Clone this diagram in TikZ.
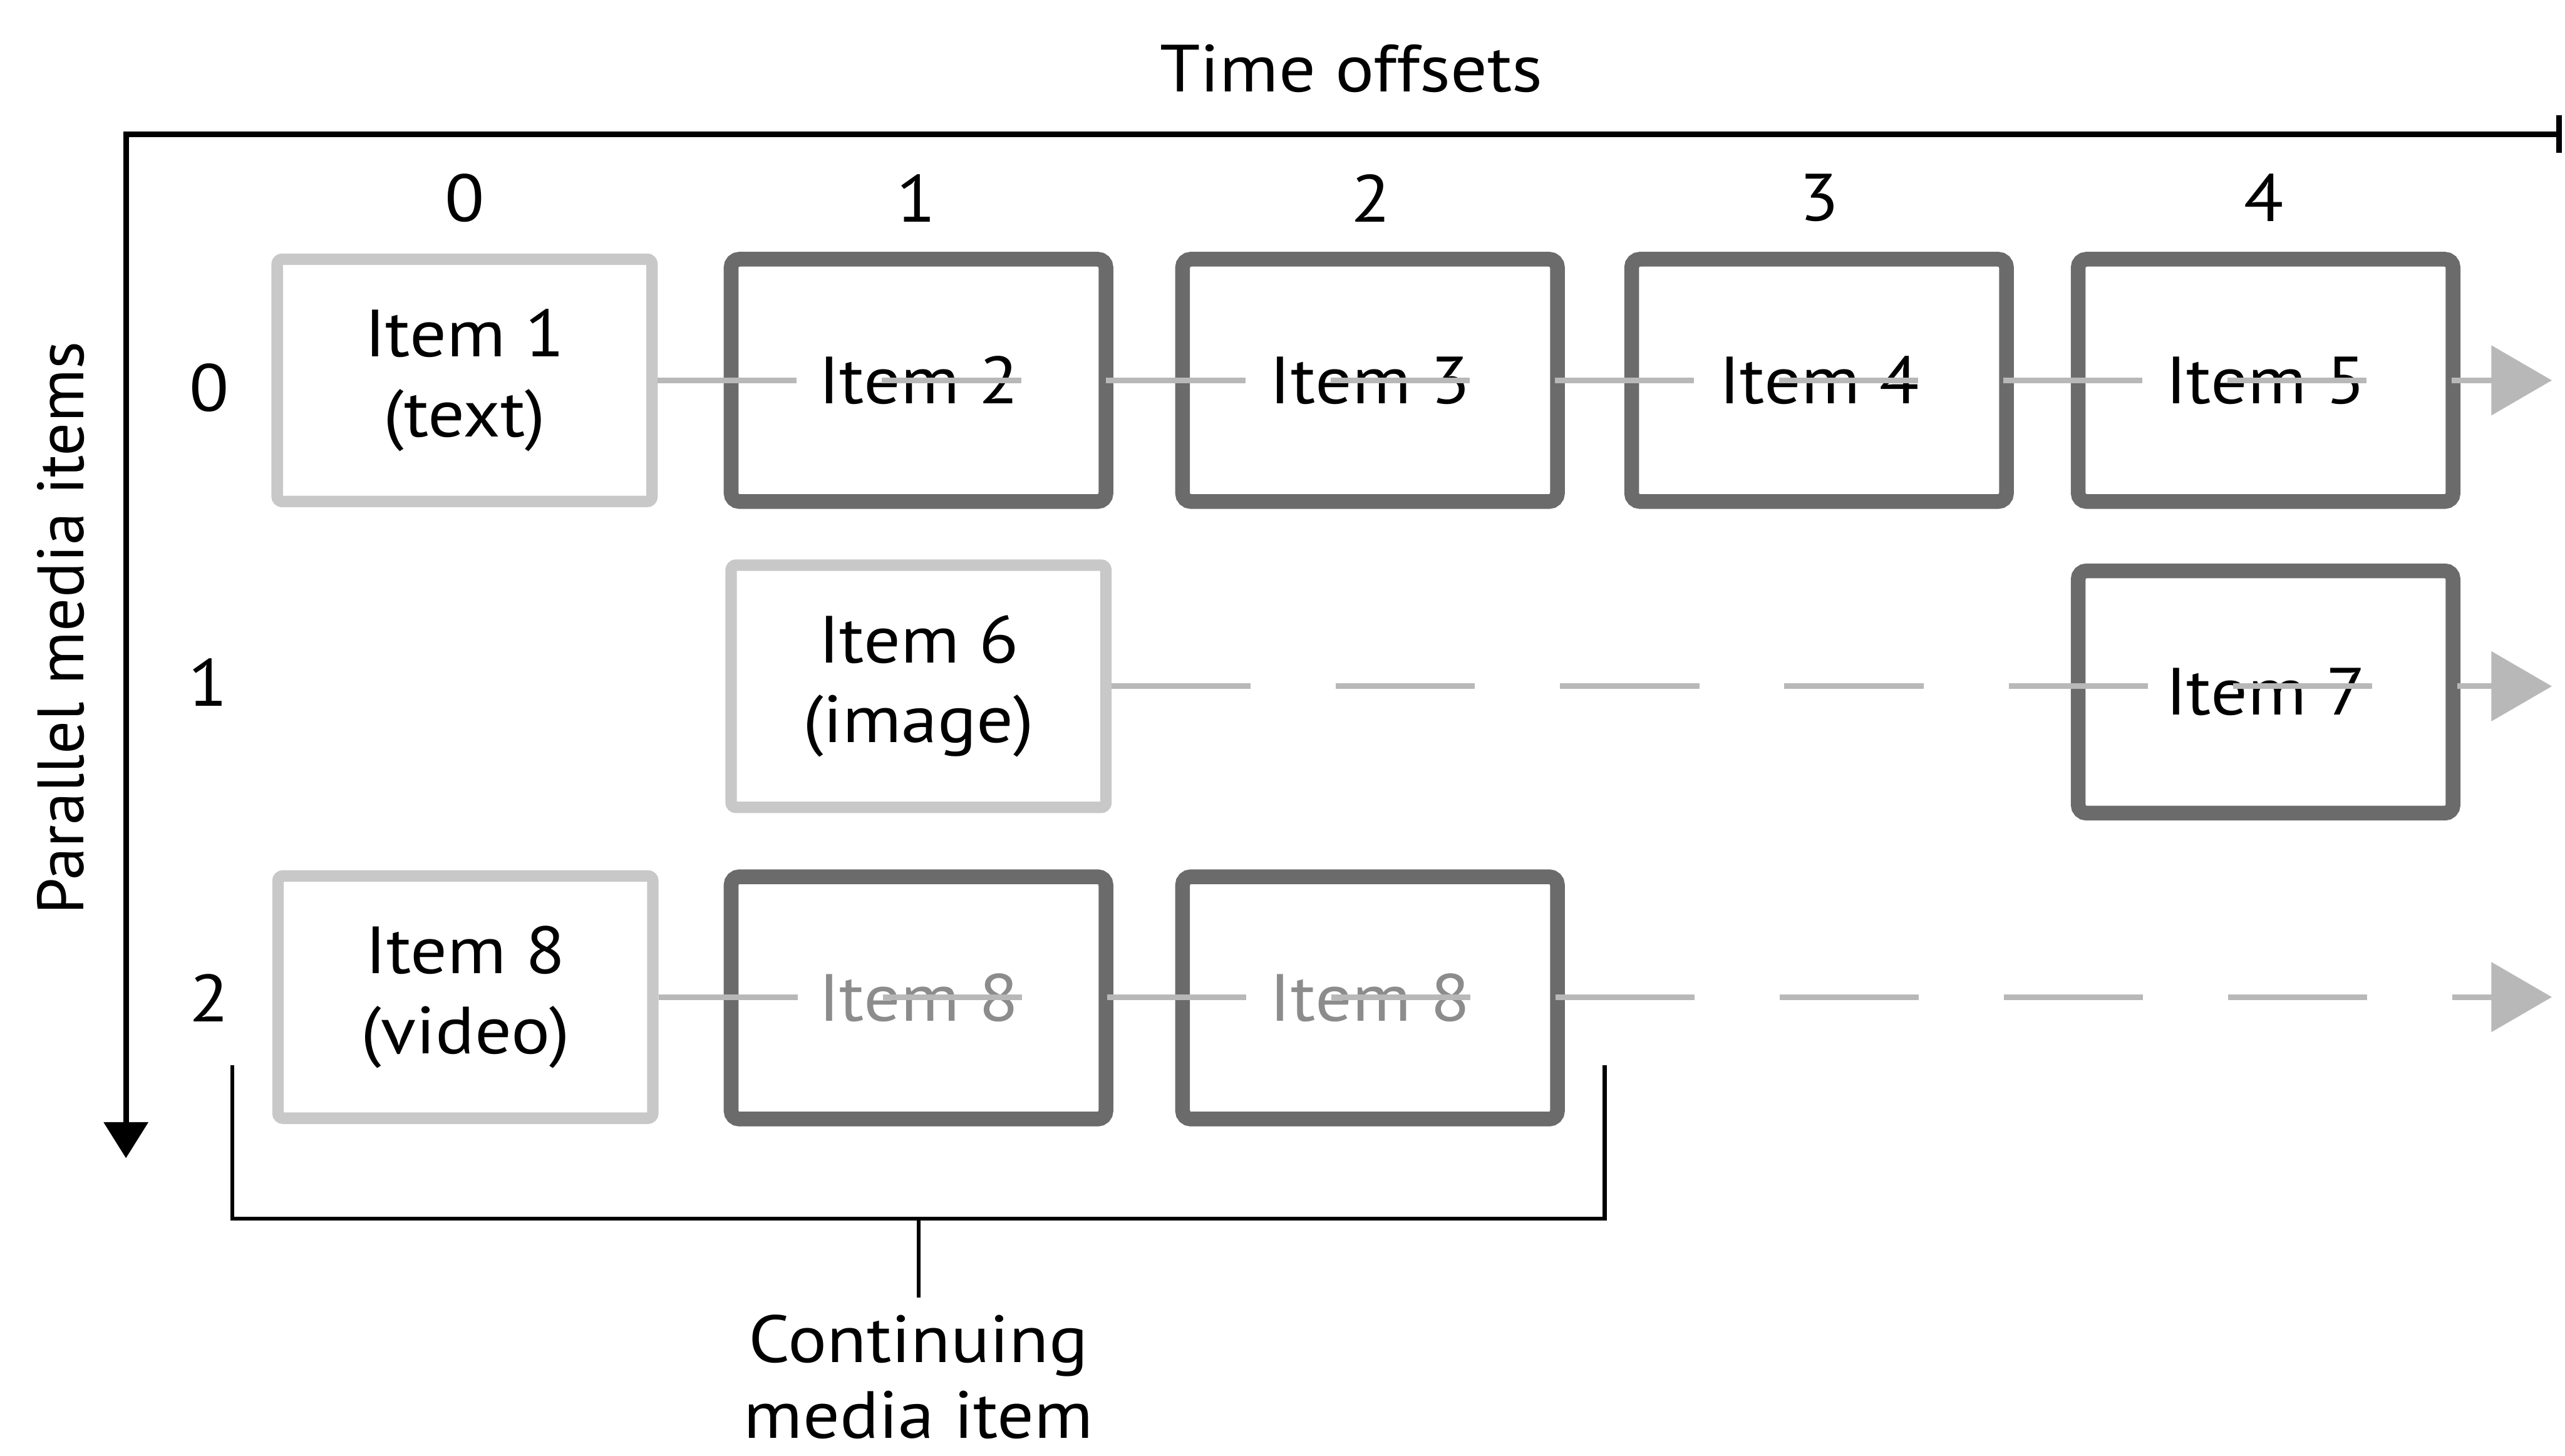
\documentclass[tikz,border=0pt]{standalone}
\usepackage{fontspec}
\setmainfont{PT Sans}[FakeStretch=1.09]
\newfontfamily\sidefont{PT Sans}
\usetikzlibrary{arrows.meta}

\definecolor{rim}{HTML}{6B6B6B}
\definecolor{faint}{HTML}{C8C8C8}
\definecolor{trackgray}{HTML}{B8B8B8}
\definecolor{ghost}{HTML}{8C8C8C}

\begin{document}
\begin{tikzpicture}[x=0.01cm, y=-0.01cm,
  every node/.style={font=\fontsize{11.6}{13.9}\selectfont},
  mediabox/.style={draw=rim, line width=0.09cm, rounded corners=0.05cm,
    minimum width=2.29cm, minimum height=1.48cm, inner sep=0pt, align=center},
  startbox/.style={draw=faint, line width=0.07cm, rounded corners=0.03cm,
    minimum width=2.29cm, minimum height=1.48cm, inner sep=0pt, align=center},
  ghostbox/.style={mediabox, text=ghost},
  trackline/.style={draw=trackgray, line width=0.035cm,
    dash pattern=on 0.85cm off 0.52cm,
    -{Triangle[length=0.37cm, width=0.42cm]}},
  axisline/.style={line width=1pt,
    {Triangle[length=0.22cm, width=0.265cm]}-{Bar[width=0.23cm]}},
  bracketline/.style={line width=0.7pt}
]
\useasboundingbox (0,0) rectangle (1568,890);

% axes
\coordinate (corner) at (77,82);
\coordinate (tend) at (1566,82);
\coordinate (vend) at (77,708);
\draw[axisline] (vend) -- (corner) -- (tend);

\node (toff) at (826,42) {Time offsets};
\node[rotate=90, font=\sidefont\fontsize{11.4}{13.9}\selectfont] (pmi) at (37,384) {Parallel media items};

% column and row numbers
\node (col0) at (284,121) {0};
\node (col1) at (560,121) {1};
\node (col2) at (838,121) {2};
\node (col3) at (1112,121) {3};
\node (col4) at (1384,121) {4};
\node (row0) at (128,237) {0};
\node (row1) at (127,417) {1};
\node (row2) at (128,610) {2};

% media items
\node[startbox] (i1) at (284,232.5) {Item 1\\(text)};
\node[mediabox] (i2) at (561.5,232.5) {Item 2};
\node[mediabox] (i3) at (837.5,232.5) {Item 3};
\node[mediabox] (i4) at (1112,232.5) {Item 4};
\node[mediabox] (i5) at (1385,232.5) {Item 5};

\node[startbox] (i6) at (561.5,419.5) {Item 6\\(image)};
\node[mediabox] (i7) at (1385,423) {Item 7};

\node[startbox] (i8) at (284.5,609.5) {Item 8\\(video)};
\node[ghostbox] (g8a) at (561.5,610) {Item 8};
\node[ghostbox] (g8b) at (837.5,610) {Item 8};

% timelines of the three rows
\coordinate (end0) at (1560,232.5);
\coordinate (end1) at (1560,419.5);
\coordinate (end2) at (1560,609.5);
\draw[trackline] (i1.east) -- (end0);
\draw[trackline] (i6.east) -- (end1);
\draw[trackline] (i8.east) -- (end2);

% bracket for the continuing item
\coordinate (bl) at (142,651);
\coordinate (bbl) at (142,745);
\coordinate (bbr) at (981,745);
\coordinate (br) at (981,651);
\coordinate (bm) at (561.5,745);
\draw[bracketline] (bl) -- (bbl) -- (bbr) -- (br);
\node[anchor=north, align=center, inner sep=0pt, font=\fontsize{11.6}{13.2}\selectfont]
  (lbl) at (561.5,803) {Continuing\\media item};
\draw[bracketline] (bm) -- ([yshift=1mm]lbl.north);
\end{tikzpicture}
\end{document}
